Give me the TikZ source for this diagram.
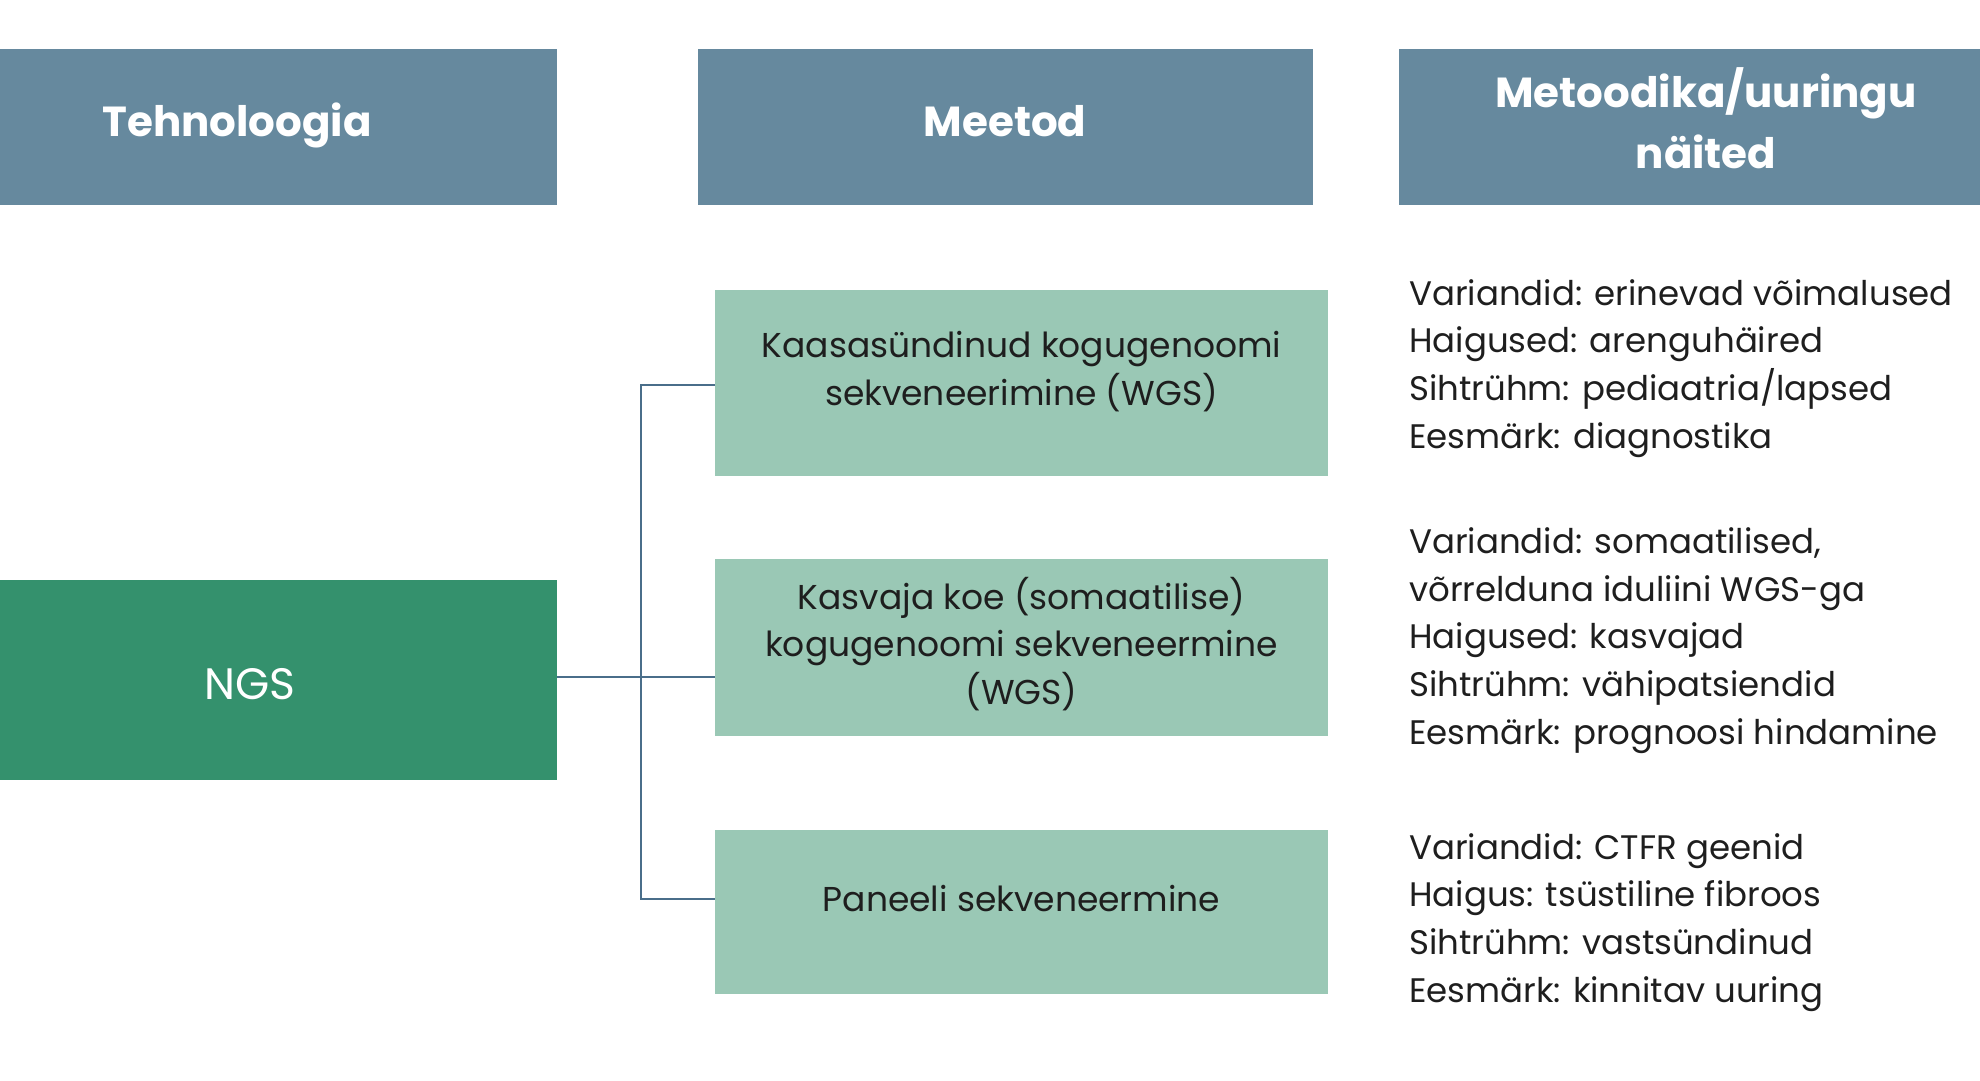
\documentclass[tikz,border=0pt]{standalone}
\usepackage{fontspec}
\setmainfont{Poppins}
\definecolor{hdrc}{RGB}{102,137,158}
\definecolor{ngsc}{RGB}{52,145,109}
\definecolor{methc}{RGB}{154,200,181}
\definecolor{linec}{RGB}{74,110,138}
\definecolor{txtc}{RGB}{30,30,30}
\begin{document}
\begin{tikzpicture}[x=1pt,y=-1pt,
  boxbase/.style={inner sep=0pt, draw=none, minimum width=#1},
  hdrbox/.style={boxbase=#1, fill=hdrc, minimum height=156pt},
  methbox/.style={boxbase=613pt, fill=methc},
  hdrtext/.style={inner sep=0pt, text=white, font=\fontsize{42}{60.6}\selectfont\bfseries, align=center},
  methtext/.style={inner sep=0pt, text=txtc, font=\fontsize{34.5}{47.4}\selectfont, align=center, anchor=base},
  infotext/.style={inner sep=0pt, text=txtc, font=\fontsize{34}{47.6}\selectfont, align=left, anchor=base west},
  conn/.style={draw=linec, line width=2pt}
]
\useasboundingbox (0,0) rectangle (1980,1080);
% header boxes
\node[hdrbox=557pt] (h1) at (278.5,127) {};
\node[hdrbox=615pt] (h2) at (1005.5,127) {};
\node[hdrbox=581pt] (h3) at (1689.5,127) {};
\node[hdrtext, anchor=base] (t1) at (237,136) {Tehnoloogia};
\node[hdrtext, anchor=base] (t2) at (1005,136) {Meetod};
\node[hdrtext, anchor=base] (t3) at (1706,168) {Metoodika/uuringu\\näited};
% NGS
\node[boxbase=557pt, fill=ngsc, minimum height=200pt] (ngs) at (278.5,680) {};
\node[inner sep=0pt, text=white, font=\fontsize{44}{50}\selectfont, anchor=base] (ngst) at (250,699) {NGS};
% method boxes
\node[methbox, minimum height=186pt] (m1) at (1021.5,383) {};
\node[methbox, minimum height=177pt] (m2) at (1021.5,647.5) {};
\node[methbox, minimum height=164pt] (m3) at (1021.5,912) {};
\node[methtext] (mt1) at (1021.5,405) {Kaasasündinud kogugenoomi\\sekveneerimine (WGS)};
\node[methtext] (mt2) at (1021.5,704) {Kasvaja koe (somaatilise)\\kogugenoomi sekveneermine\\(WGS)};
\node[methtext] (mt3) at (1021.5,911) {Paneeli sekveneermine};
% connectors
\coordinate (j) at (641,677);
\draw[conn] (ngs.east |- j) -- (m2.west |- j);
\draw[conn] ([yshift=-2pt]m1.west) -- ++(-74,0) |- ([yshift=13pt]m3.west);
% info texts
\node[infotext] (i1) at (1409,448) {Variandid: erinevad võimalused\\Haigused: arenguhäired\\Sihtrühm: pediaatria/lapsed\\Eesmärk: diagnostika};
\node[infotext] (i2) at (1409,744) {Variandid: somaatilised,\\võrrelduna iduliini WGS-ga\\Haigused: kasvajad\\Sihtrühm: vähipatsiendid\\Eesmärk: prognoosi hindamine};
\node[infotext] (i3) at (1409,1002) {Variandid: CTFR geenid\\Haigus: tsüstiline fibroos\\Sihtrühm: vastsündinud\\Eesmärk: kinnitav uuring};
\end{tikzpicture}
\end{document}
